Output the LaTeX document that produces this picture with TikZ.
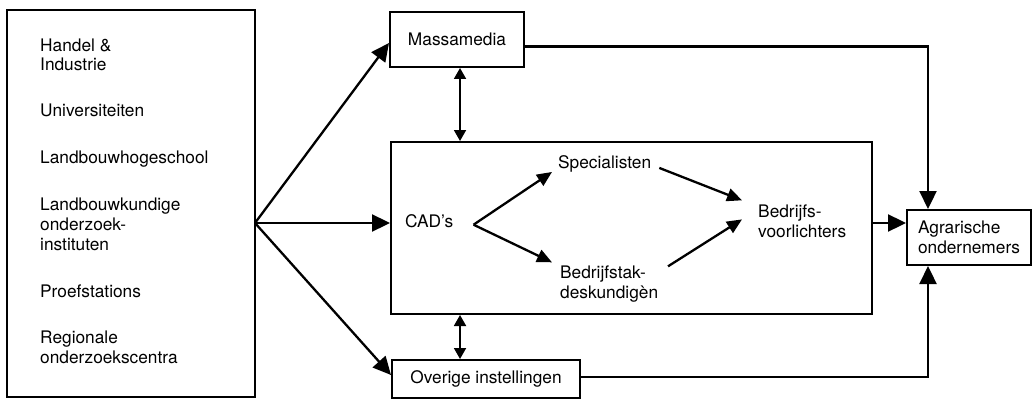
\documentclass[tikz,border=0pt]{standalone}
\usepackage{fontspec}
\setmainfont{TeX Gyre Heros}
\usetikzlibrary{arrows.meta,calc}
\begin{document}
\begin{tikzpicture}[x=1pt,y=-1pt,
  txt/.style={font=\fontsize{17.3}{19.8}\selectfont},
  box/.style={draw,line width=2pt,inner sep=0pt,txt},
  lbl/.style={inner sep=0pt,anchor=base west,align=left,txt},
  flow/.style={line width=2.3pt,-{Triangle[length=18pt,width=17pt]}},
  inarr/.style={line width=2.3pt,-{Triangle[length=15pt,width=13pt]}},
  dbl/.style={line width=1.8pt,{Triangle[length=11pt,width=12pt]}-{Triangle[length=11pt,width=12pt]}}]
\useasboundingbox (0,0) rectangle (1032,401);

% boxes
\node[box,minimum width=248pt,minimum height=387pt] (src) at (131,203.5) {};
\node[box,minimum width=134pt,minimum height=55pt] (mm) at (457,39.5) {Massamedia};
\node[box,minimum width=481pt,minimum height=172pt] (cad) at (631.5,228) {};
\node[box,minimum width=188pt,minimum height=38pt] (ov) at (486,379) {Overige instellingen};
\node[box,minimum width=124pt,minimum height=55pt,align=left,yshift=-2pt] (agr) at (969,235.5) {Agrarische\\ondernemers};

% sources (base = baseline of the last line)
\node[lbl] (t1) at (40,71) {Handel \&\\Industrie};
\node[lbl] (t2) at (40,117) {Universiteiten};
\node[lbl] (t3) at (40,163) {Landbouwhogeschool};
\node[lbl] (t4) at (40,250) {Landbouwkundige\\onderzoek-\\instituten};
\node[lbl] (t5) at (40,297) {Proefstations};
\node[lbl] (t6) at (40,363) {Regionale\\onderzoekscentra};

% inside the central box
\node[lbl] (cadt) at (405,227) {CAD's};
\node[lbl] (spec) at (558,168) {Specialisten};
\node[lbl] (bst) at (560,298) {Bedrijfstak-\\deskundigèn};
\node[lbl] (bvl) at (758,237) {Bedrijfs-\\voorlichters};

% fan from the sources
\coordinate (fan) at (255,223);
\draw[flow] (fan) -- ([yshift=-3.5pt]mm.west);
\draw[flow] (fan) -- (fan -| cad.west);
\draw[flow] (fan) -- ([yshift=4pt]ov.west);

% two-way links
\coordinate (mx) at ([xshift=3pt]mm.south);
\draw[dbl] (mx) -- (mx |- cad.north);
\draw[dbl] (mx |- cad.south) -- (mx |- ov.north);

% to the farmers
\coordinate (rxn) at ([xshift=-41pt]agr.north);
\coordinate (rxs) at ([xshift=-41pt]agr.south);
\draw[flow] ([yshift=-7pt]mm.east) -| (rxn);
\draw[flow] ([yshift=2pt]ov.east) -| (rxs);
\draw[flow] (fan -| cad.east) -- (fan -| agr.west);

% inner flow
\draw[inarr] ([xshift=20pt,yshift=-4pt]cadt.east) -- ([xshift=-6pt]spec.south west);
\draw[inarr] ([xshift=20pt,yshift=-4pt]cadt.east) -- ([xshift=-8pt,yshift=3pt]bst.north west);
\draw[inarr] ([xshift=8pt,yshift=-4.5pt]spec.east) -- ([xshift=-16pt,yshift=4pt]bvl.north west);
\draw[inarr] ([xshift=108pt,yshift=-1pt]bst.north west) -- ([xshift=-16pt,yshift=1.5pt]bvl.west);
\end{tikzpicture}
\end{document}
